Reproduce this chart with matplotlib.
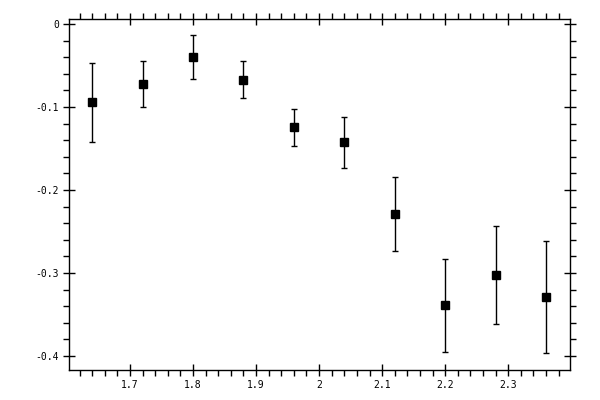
import matplotlib.pyplot as plt
from matplotlib.ticker import MultipleLocator

x = [1.64, 1.72, 1.80, 1.88, 1.96, 2.04, 2.12, 2.20, 2.28, 2.36]
y = [-0.0944, -0.0727, -0.0402, -0.0679, -0.1240, -0.1426, -0.2293, -0.3390, -0.3028, -0.3293]
err_top = [-0.0470, -0.0450, -0.0137, -0.0450, -0.1024, -0.1124, -0.1847, -0.2830, -0.2438, -0.2614]
err_bottom = [-0.1426, -0.1004, -0.0667, -0.0896, -0.1470, -0.1739, -0.2735, -0.3950, -0.3614, -0.3964]

lower = [v - b for v, b in zip(y, err_bottom)]
upper = [t - v for v, t in zip(y, err_top)]

fig = plt.figure(figsize=(6, 4), dpi=100)
ax = fig.add_axes([0.115, 0.075, 0.835, 0.8775])

ax.errorbar(x, y, yerr=[lower, upper], fmt="s", color="black",
            markersize=6, elinewidth=1, capsize=2.5, capthick=1)

ax.set_xlim(1.6033, 2.398)
ax.set_ylim(-0.4169, 0.006)

ax.xaxis.set_major_locator(MultipleLocator(0.1))
ax.xaxis.set_minor_locator(MultipleLocator(0.02))
ax.yaxis.set_major_locator(MultipleLocator(0.1))
ax.yaxis.set_minor_locator(MultipleLocator(0.02))
ax.xaxis.set_major_formatter(lambda v, pos: f"{v:.1f}".rstrip("0").rstrip(".") if abs(v - round(v)) < 1e-9 else f"{v:.1f}")
ax.yaxis.set_major_formatter(lambda v, pos: "0" if abs(v) < 1e-9 else f"{v:.1f}")

ax.tick_params(which="both", top=True, right=True, direction="out", width=1,
               labelsize=7, pad=3)
ax.tick_params(which="major", direction="inout", length=8)
ax.tick_params(which="minor", length=4)
for lab in ax.get_xticklabels() + ax.get_yticklabels():
    lab.set_family("DejaVu Sans Mono")
for s in ax.spines.values():
    s.set_linewidth(1)

fig.savefig("out.png", dpi=100)
